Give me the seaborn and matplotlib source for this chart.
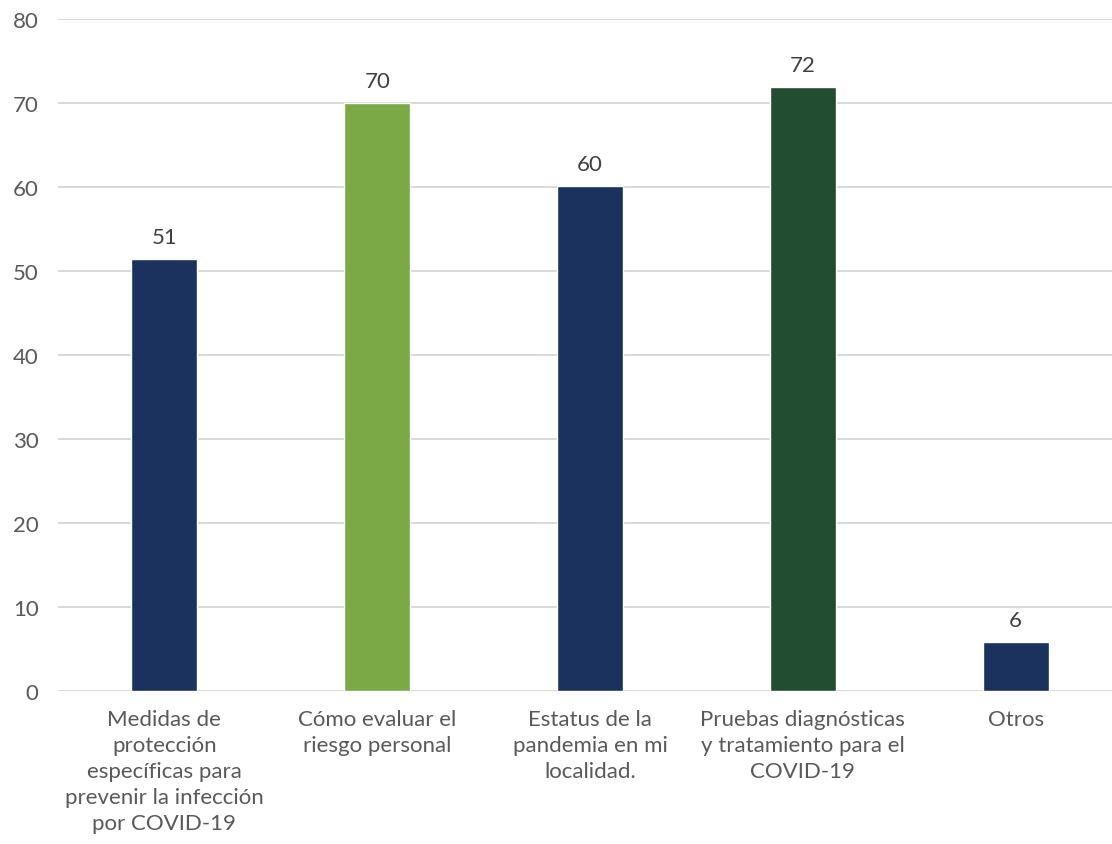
import seaborn as sns
import matplotlib.pyplot as plt
import pandas as pd

categories = [
    "Medidas de\nprotección\nespecíficas para\nprevenir la infección\npor COVID-19",
    "Cómo evaluar el\nriesgo personal",
    "Estatus de la\npandemia en mi\nlocalidad.",
    "Pruebas diagnósticas\ny tratamiento para el\nCOVID-19",
    "Otros",
]
values = [51.4, 70.0, 60.1, 71.9, 5.8]
colors = ["#1B325F", "#7BA946", "#1B325F", "#224D31", "#1B325F"]

df = pd.DataFrame({"cat": categories, "val": values})

sns.set_style("white")
plt.rcParams["font.family"] = ["Lato", "DejaVu Sans"]

fig = plt.figure(figsize=(11.12, 8.45), dpi=100)
ax = fig.add_axes([58 / 1112, 1 - 692 / 845, 1064 / 1112, 672 / 845])

sns.barplot(data=df, x="cat", y="val", hue="cat", palette=colors,
            width=0.31, saturation=1, legend=False, ax=ax)

ax.set_ylim(0, 80)
ax.set_xlim(-0.5, 4.5)
ax.set_yticks(range(0, 81, 10))
ax.yaxis.grid(True, color="#D9D9D9", linewidth=1.4)
ax.set_axisbelow(True)
for s in ax.spines.values():
    s.set_visible(False)
ax.set_xlabel("")
ax.set_ylabel("")
ax.tick_params(axis="y", length=0, pad=14, labelsize=16, labelcolor="#595959")
ax.tick_params(axis="x", length=0, pad=13, labelsize=16, labelcolor="#595959")
for lbl in ax.get_xticklabels():
    lbl.set_linespacing(1.38)
    lbl.set_verticalalignment("top")

for c in ax.containers:
    ax.bar_label(c, labels=[f"{v:.0f}" for v in c.datavalues], padding=9,
                 fontsize=16, color="#404040")

fig.savefig("out.png", dpi=100)
